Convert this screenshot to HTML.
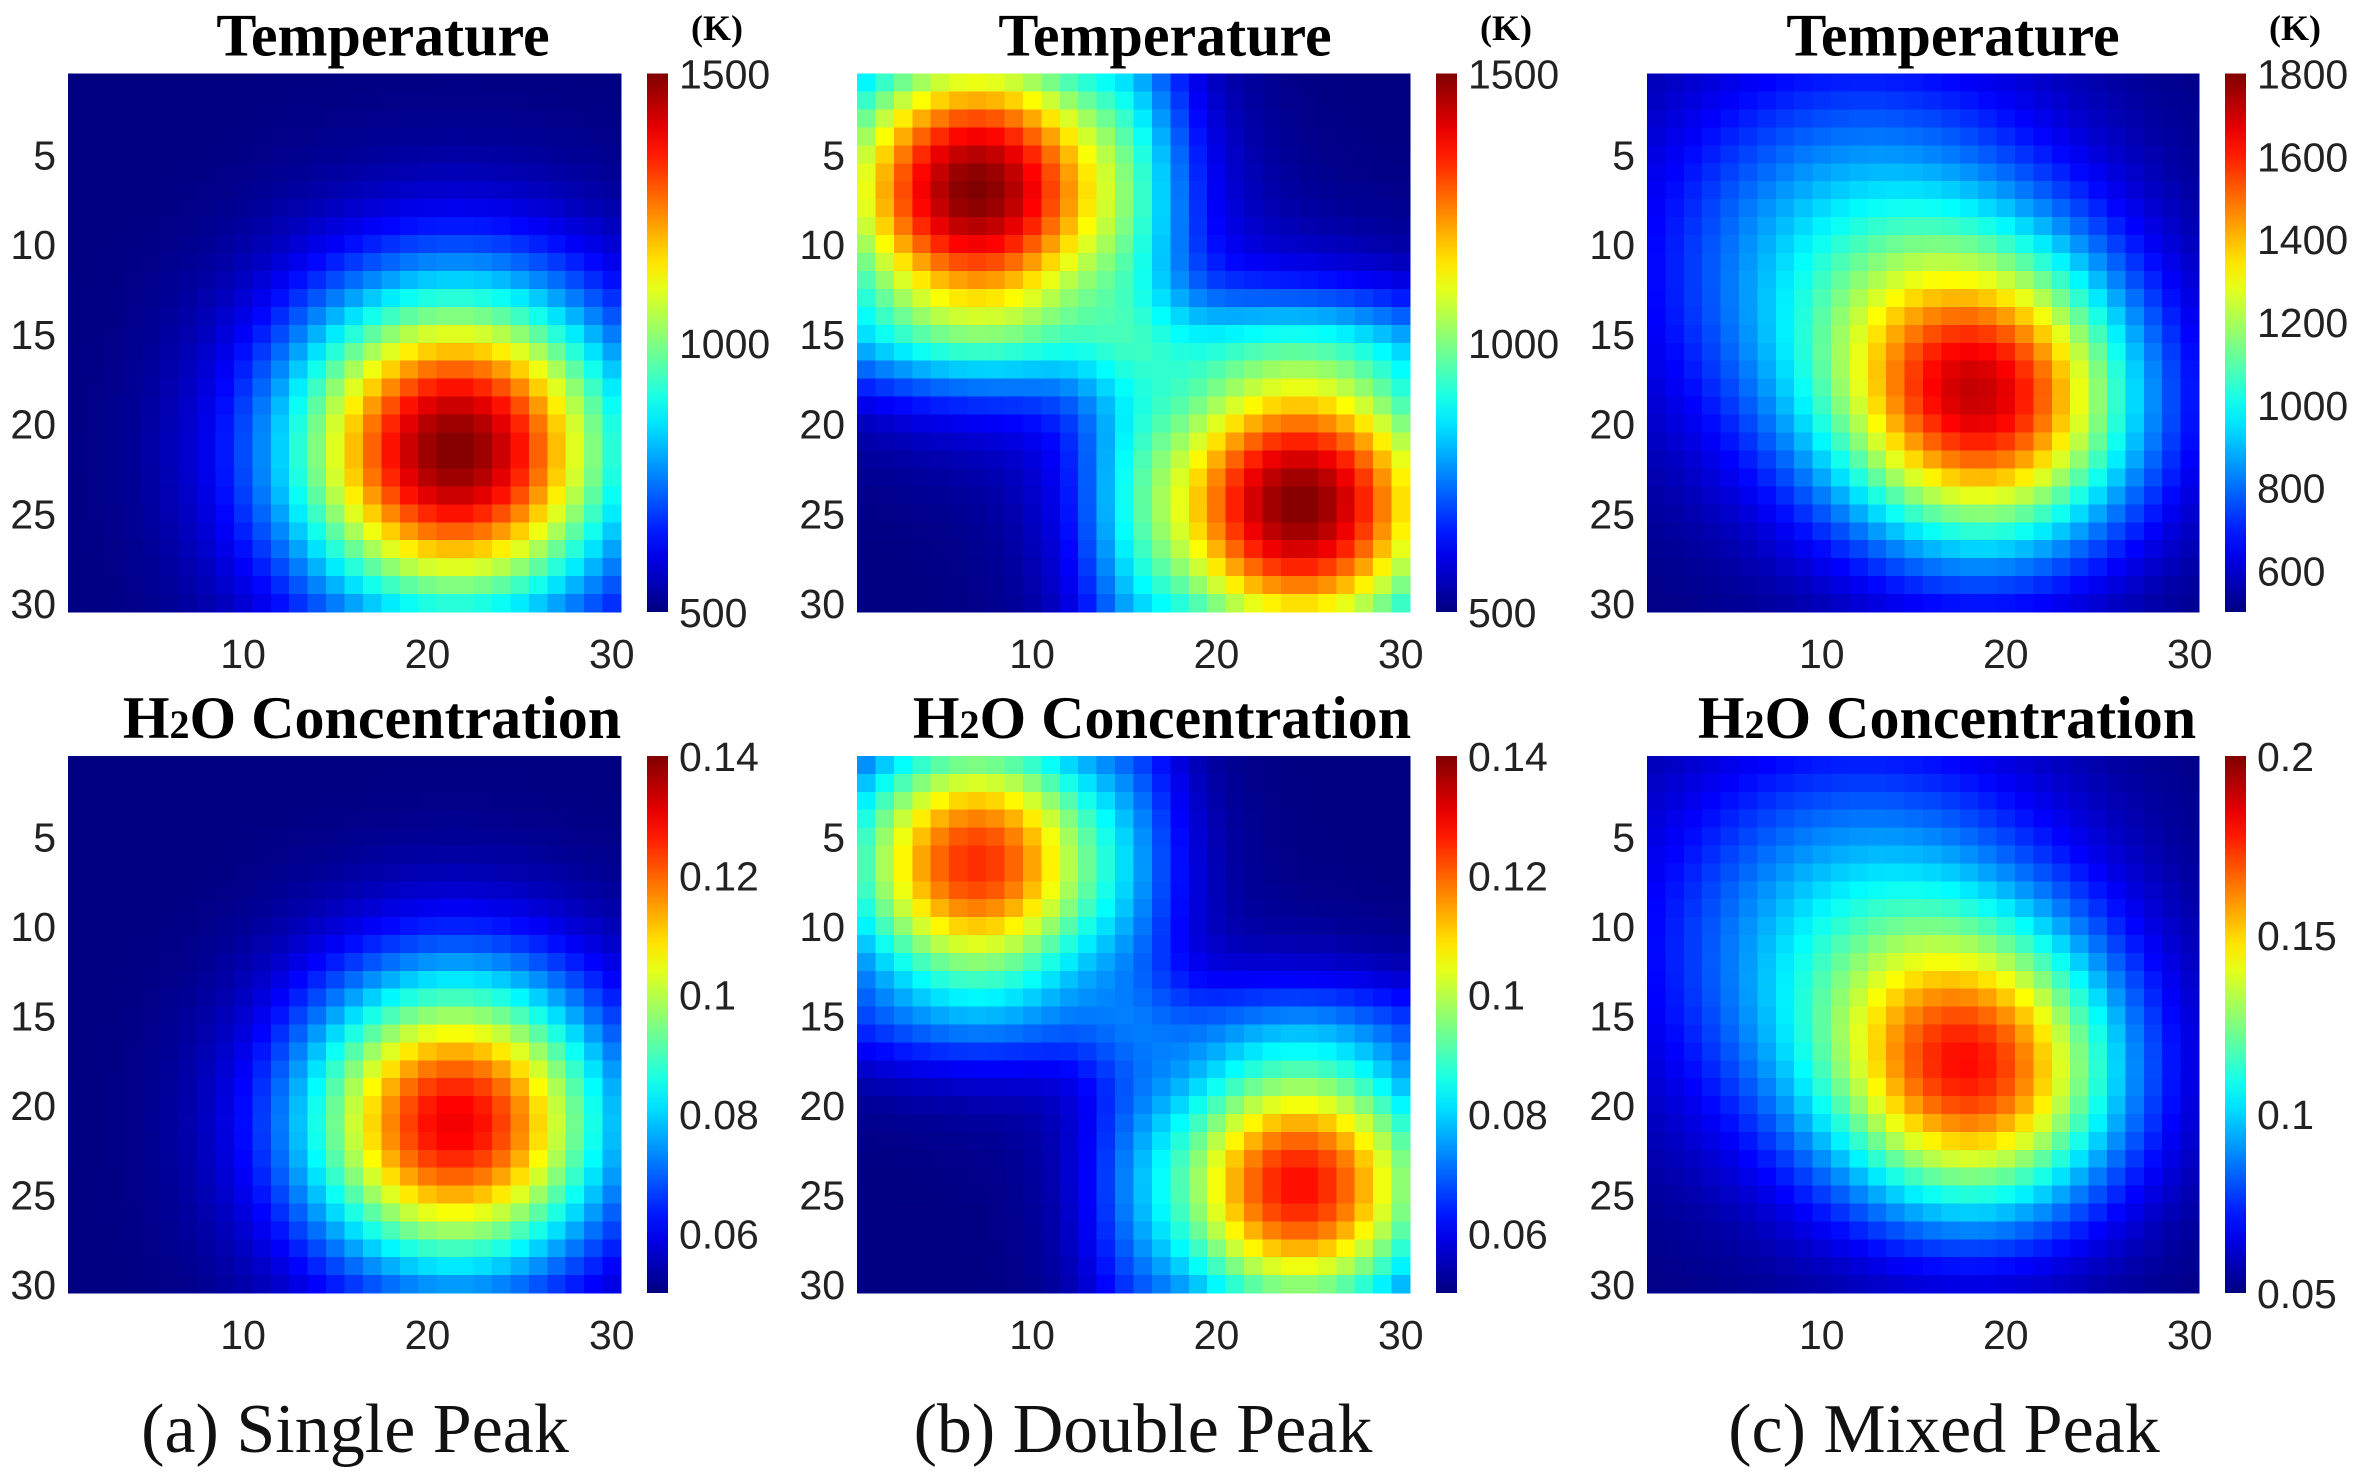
<!DOCTYPE html>
<html><head><meta charset="utf-8"><style>
body{margin:0;background:#fff}
svg{display:block}
.tk{font-family:"Liberation Sans",sans-serif;font-size:41px;fill:#222}
.tt{font-family:"Liberation Serif",serif;font-weight:bold;font-size:60px;fill:#000}
.cap{font-family:"Liberation Serif",serif;font-size:70px;fill:#111}
.un{font-family:"Liberation Serif",serif;font-weight:bold;font-size:36px;fill:#000}
</style></head><body>
<svg id="fig" width="2353" height="1482" viewBox="0 0 2353 1482" xmlns="http://www.w3.org/2000/svg"></svg>
<script>
// Field model parameters (grid 30x30, 1-based cell coords)
const gridN = 30;
// Panel a: single peak
const aTempPeakX = [21.5], aTempPeakY = [21.5], aTempAmp = [1000], aTempSx = [6.4], aTempSy = [6.4];
const aTempRange = [500, 1500];
const aH2OPeakX = [21.5], aH2OPeakY = [21.0], aH2OAmp = [0.08], aH2OSx = [5.9], aH2OSy = [5.9];
const aH2ORange = [0.05, 0.14];
// Panel b: double peak
const bTempPeakX = [7, 24.5], bTempPeakY = [7, 24.5], bTempAmp = [1000, 1000], bTempSx = [6.0, 6.0], bTempSy = [6.0, 6.0];
const bTempBandPos = [15.5, 15.5], bTempBandAmp = [100, 100]; // [vertical band x, horizontal band y]
const bTempRange = [500, 1500];
const bH2OPeakX = [7, 24.5], bH2OPeakY = [6.5, 24.5], bH2OAmp = [0.075, 0.078], bH2OSx = [5.4, 5.4], bH2OSy = [5.4, 5.4];
const bH2OBandPos = [15.5, 15.5], bH2OBandAmp = [0.006, 0.006];
const bH2ORange = [0.05, 0.14];
// Panel c: mixed peak
const cTempPeakX = [12, 19], cTempPeakY = [11, 19], cTempAmp = [430, 1020], cTempSx = [8.0, 5.8], cTempSy = [8.0, 5.8];
const cTempRange = [500, 1800];
const cH2OPeakX = [12, 18.5], cH2OPeakY = [11, 18.5], cH2OAmp = [0.05, 0.105], cH2OSx = [8.0, 5.6], cH2OSy = [8.0, 5.6];
const cH2ORange = [0.05, 0.2];
// Tick labels
const gridTicksY = [5, 10, 15, 20, 25, 30];
const gridTicksX = [10, 20, 30];
const tempTicks15 = [500, 1000, 1500];
const tempTicks18 = [600, 800, 1000, 1200, 1400, 1600, 1800];
const h2oTicks14 = [0.06, 0.08, 0.1, 0.12, 0.14];
const h2oTicks20 = [0.05, 0.1, 0.15, 0.2];
const captions = ["(a) Single Peak", "(b) Double Peak", "(c) Mixed Peak"];

const NS = "http://www.w3.org/2000/svg";
const fig = document.getElementById("fig");
function mk(tag, attrs, parent) {
  const e = document.createElementNS(NS, tag);
  for (const k in attrs) e.setAttribute(k, attrs[k]);
  (parent || fig).appendChild(e);
  return e;
}
function jet(t) {
  t = Math.max(0, Math.min(1, t));
  const c = v => Math.round(255 * Math.max(0, Math.min(1, v)));
  return `rgb(${c(1.5 - Math.abs(4 * t - 3))},${c(1.5 - Math.abs(4 * t - 2))},${c(1.5 - Math.abs(4 * t - 1))})`;
}
function field(px, py, amp, sx, sy, range, bandPos, bandAmp) {
  const out = [];
  for (let r = 1; r <= gridN; r++) {
    const row = [];
    for (let c = 1; c <= gridN; c++) {
      let v = range[0];
      for (let k = 0; k < px.length; k++) {
        const dx = (c - px[k]) / sx[k], dy = (r - py[k]) / sy[k];
        v += amp[k] * Math.exp(-0.5 * (dx * dx + dy * dy));
      }
      if (bandPos) {
        v += bandAmp[0] * Math.exp(-0.5 * ((c - bandPos[0]) / 2.0) ** 2);
        v += bandAmp[1] * Math.exp(-0.5 * ((r - bandPos[1]) / 2.0) ** 2);
      }
      row.push(v);
    }
    out.push(row);
  }
  return out;
}
const colX = [[68, 621, 647], [857, 1410, 1436], [1647, 2199, 2225]];
const rowY = [[73.5, 612], [756, 1293]];
const titleCx = [[383, 1165, 1953], [372, 1162, 1947]];

function panel(ci, ri, data, range, ticks, fmt, name) {
  const [x0, x1, cbx] = colX[ci];
  const [y0, y1] = rowY[ri];
  const g = mk("g", {});
  
  
  const xs = c => x0 + (c - 0.5) * (x1 - x0) / gridN;
  const ys = r => y0 + (r - 0.5) * (y1 - y0) / gridN;
  const cw = (x1 - x0) / gridN, ch = (y1 - y0) / gridN;
  for (let r = 1; r <= gridN; r++) for (let c = 1; c <= gridN; c++) {
    const v = data[r - 1][c - 1];
    const rc = mk("rect", { x: (xs(c) - cw / 2).toFixed(2), y: (ys(r) - ch / 2).toFixed(2), width: (cw + 0.6).toFixed(2), height: (ch + 0.6).toFixed(2), fill: jet((v - range[0]) / (range[1] - range[0])), "shape-rendering": "crispEdges" }, g);
    
    
  }
  gridTicksY.forEach(t => {
    const tx = mk("text", { x: x0 - 12, y: ys(t) + 15, "text-anchor": "end", class: "tk" });
    tx.textContent = t;
    
    
  });
  gridTicksX.forEach(t => {
    const tx = mk("text", { x: xs(t), y: y1 + 56, "text-anchor": "middle", class: "tk" });
    tx.textContent = t;
    
    
  });
  const defsId = "grad" + ci + ri;
  const defs = mk("defs", {});
  const lg = mk("linearGradient", { id: defsId, x1: 0, y1: 1, x2: 0, y2: 0 }, defs);
  for (let i = 0; i <= 20; i++) mk("stop", { offset: i / 20, "stop-color": jet(i / 20) }, lg);
  const cb = mk("rect", { x: cbx, y: y0, width: 21, height: y1 - y0, fill: `url(#${defsId})` });
  
  
  const cs = v => y1 - (v - range[0]) / (range[1] - range[0]) * (y1 - y0);
  ticks.forEach(t => {
    const tx = mk("text", { x: cbx + 32, y: cs(t) + 15, class: "tk" });
    tx.textContent = fmt(t);
    
    
  });
  const tt = mk("text", { x: titleCx[ri][ci], y: y0 - 18, "text-anchor": "middle", class: "tt" });
  if (ri === 0) tt.textContent = "Temperature";
  else { tt.innerHTML = 'H<tspan font-size="40">2</tspan>O Concentration'; }
  
  
  if (ri === 0) {
    const u = mk("text", { x: cbx + 70, y: 40, "text-anchor": "middle", class: "un" });
    u.textContent = "(K)";
    
    
  }
}
const f0 = t => String(t);
panel(0, 0, field(aTempPeakX, aTempPeakY, aTempAmp, aTempSx, aTempSy, aTempRange), aTempRange, tempTicks15, f0, "a-temp");
panel(0, 1, field(aH2OPeakX, aH2OPeakY, aH2OAmp, aH2OSx, aH2OSy, aH2ORange), aH2ORange, h2oTicks14, f0, "a-h2o");
panel(1, 0, field(bTempPeakX, bTempPeakY, bTempAmp, bTempSx, bTempSy, bTempRange, bTempBandPos, bTempBandAmp), bTempRange, tempTicks15, f0, "b-temp");
panel(1, 1, field(bH2OPeakX, bH2OPeakY, bH2OAmp, bH2OSx, bH2OSy, bH2ORange, bH2OBandPos, bH2OBandAmp), bH2ORange, h2oTicks14, f0, "b-h2o");
panel(2, 0, field(cTempPeakX, cTempPeakY, cTempAmp, cTempSx, cTempSy, cTempRange), cTempRange, tempTicks18, f0, "c-temp");
panel(2, 1, field(cH2OPeakX, cH2OPeakY, cH2OAmp, cH2OSx, cH2OSy, cH2ORange), cH2ORange, h2oTicks20, f0, "c-h2o");
const capX = [355, 1143, 1944];
captions.forEach((c, i) => {
  const t = mk("text", { x: capX[i], y: 1452, "text-anchor": "middle", class: "cap" });
  t.textContent = c;
  
  
});
</script>
</body></html>
